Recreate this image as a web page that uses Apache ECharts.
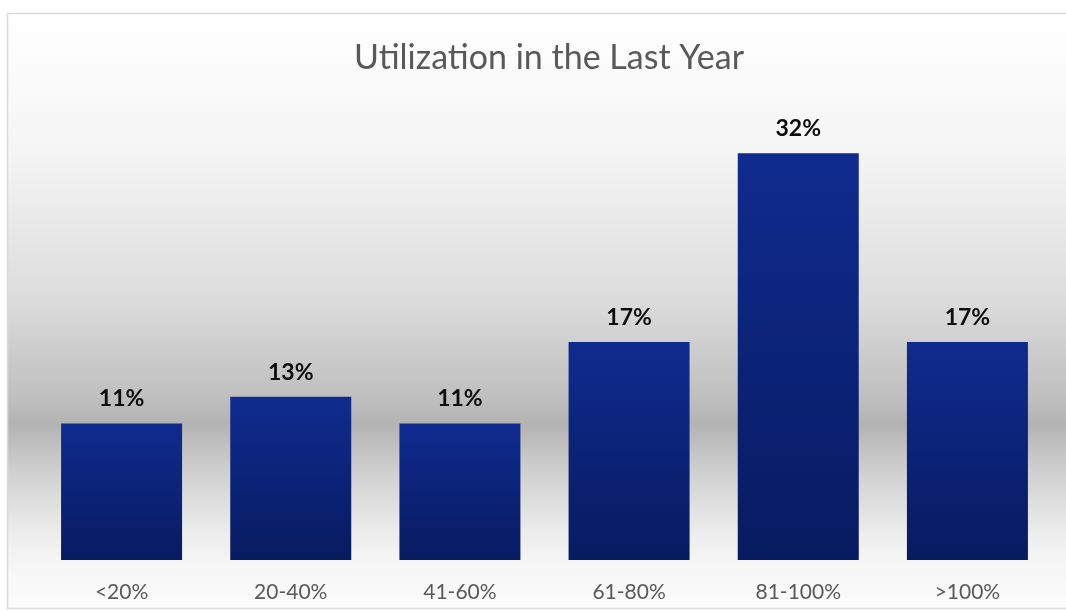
<!DOCTYPE html>
<html>
<head>
<meta charset="utf-8">
<script src="https://cdn.jsdelivr.net/npm/echarts@6/dist/echarts.min.js"></script>
<style>
html,body{margin:0;padding:0;background:#ffffff;}
#chart{width:1066px;height:612px;}
</style>
</head>
<body>
<div id="chart"></div>
<script>
var categories = ['<20%', '20-40%', '41-60%', '61-80%', '81-100%', '>100%'];
var values = [10.7, 12.8, 10.7, 17.1, 31.9, 17.1];
var titleText = 'Utilization in the Last Year';

var chart = echarts.init(document.getElementById('chart'), null, {renderer: 'canvas'});
var font = 'Lato, "Open Sans", sans-serif';
chart.setOption({
  animation: false,
  backgroundColor: '#ffffff',
  graphic: [{
    type: 'rect',
    z: -10,
    silent: true,
    shape: {x: 7.5, y: 13.5, width: 1070, height: 595},
    style: {
      fill: new echarts.graphic.LinearGradient(0, 0, 0, 1, [
        {offset: 0, color: '#ffffff'},
        {offset: 0.23, color: '#f5f5f5'},
        {offset: 0.48, color: '#dcdcdc'},
        {offset: 0.65, color: '#bebebe'},
        {offset: 0.69, color: '#b3b3b3'},
        {offset: 0.77, color: '#d0d0d0'},
        {offset: 0.87, color: '#ececec'},
        {offset: 0.92, color: '#f5f5f5'},
        {offset: 1, color: '#fcfcfc'}
      ]),
      stroke: '#d9d9d9',
      lineWidth: 1.5
    }
  }],
  title: {
    text: titleText,
    left: 349,
    top: 36,
    textStyle: {fontFamily: font, fontSize: 34, fontWeight: 'normal', color: '#595959'}
  },
  grid: {left: 37, right: 14, top: 50, bottom: 52},
  xAxis: {
    type: 'category',
    data: categories,
    axisLine: {show: false},
    axisTick: {show: false},
    axisLabel: {fontFamily: font, fontSize: 21, color: '#595959', margin: 22}
  },
  yAxis: {
    type: 'value',
    min: 0,
    max: 40,
    show: false,
    splitLine: {show: false}
  },
  series: [{
    type: 'bar',
    data: values,
    barWidth: 121,
    itemStyle: {
      color: new echarts.graphic.LinearGradient(0, 0, 0, 1, [
        {offset: 0, color: '#0f2b8f'},
        {offset: 1, color: '#071b60'}
      ])
    },
    label: {
      show: true,
      position: 'top',
      distance: 13,
      formatter: function (p) { return Math.round(p.value) + '%'; },
      fontFamily: font,
      fontSize: 23,
      fontWeight: 'bold',
      color: '#0d0d0d'
    }
  }]
});
</script>
</body>
</html>
